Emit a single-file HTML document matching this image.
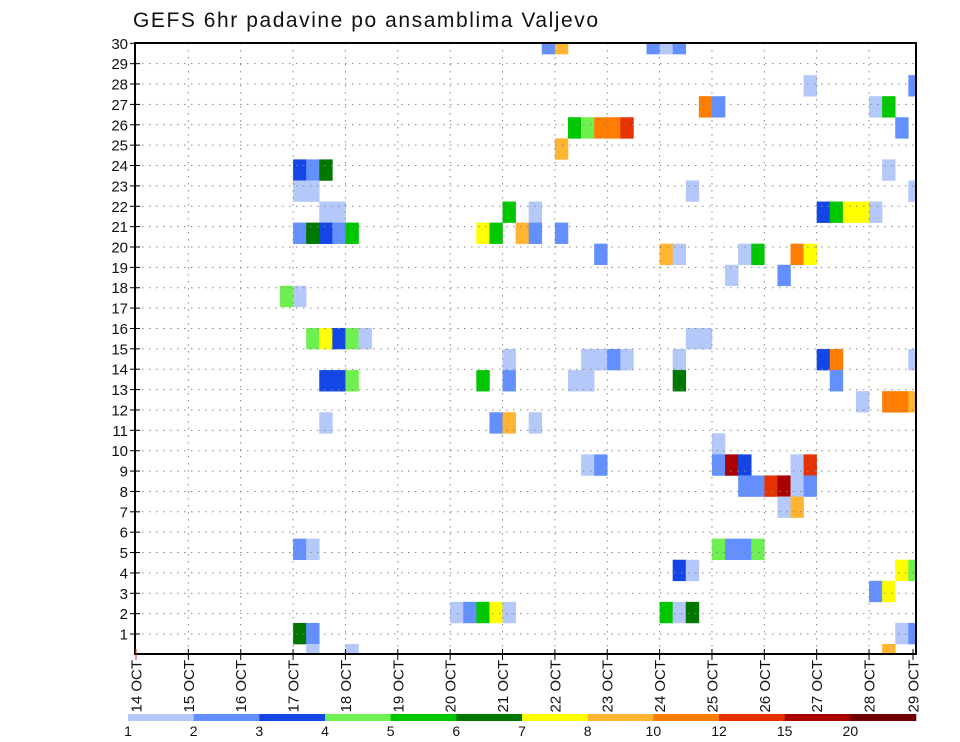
<!DOCTYPE html>
<html><head><meta charset="utf-8"><style>
html,body{margin:0;padding:0;background:#fff;}
svg{display:block;font-family:"Liberation Sans",sans-serif;}
</style></head><body>
<svg id="chart" width="960" height="742" viewBox="0 0 960 742" xmlns="http://www.w3.org/2000/svg">
<rect x="0" y="0" width="960" height="742" fill="#fff"/>
<text x="133" y="27" font-size="21" fill="#111" textLength="465">GEFS 6hr padavine po ansamblima Valjevo</text>
<defs><clipPath id="plotclip"><rect x="135" y="43" width="781" height="611"/></clipPath></defs>
<g id="cells" clip-path="url(#plotclip)"></g>
<g id="grid"></g>
<g id="axes"></g>
<g id="legend"></g>
</svg>
<script>
// ---- data ----
const levelLabels = [1,2,3,4,5,6,7,8,10,12,15,20];
const levelColors = ["#b4c8fa","#6490ff","#1446e6","#6ef050","#00c800","#007800","#ffff00","#ffb432","#ff7d00","#e63200","#aa0000","#700000"];
const dayLabels = ["14 OCT","15 OCT","16 OCT","17 OCT","18 OCT","19 OCT","20 OCT","21 OCT","22 OCT","23 OCT","24 OCT","25 OCT","26 OCT","27 OCT","28 OCT","29 OCT"];
const memberLabels = [1,2,3,4,5,6,7,8,9,10,11,12,13,14,15,16,17,18,19,20,21,22,23,24,25,26,27,28,29,30];
// cells: member slot, 6-hourly step since 14 OCT 00Z, colour level (1..12)
const cellMember = [29,29,29,29,29, 27,27, 26,26,26,26, 25,25,25,25,25,25, 24, 23,23,23,23, 22,22,22,22,
 21,21,21,21,21,21,21,21,21, 20,20,20,20,20,20,20,20,20,20, 19,19,19,19,19,19,19, 18,18, 17,17,
 15,15,15,15,15,15,15, 14,14,14,14,14,14,14,14,14, 13,13,13,13,13,13,13,13,13, 12,12,12,12,
 11,11,11,11, 10, 9,9,9,9,9,9,9, 8,8,8,8,8,8, 7,7, 5,5,5,5,5,5, 4,4,4,4, 3,3,
 2,2,2,2,2,2,2,2, 1,1,1,1, 0,0,0];
const cellStep = [31,32,39,40,41, 51,59, 43,44,56,57, 33,34,35,36,37,58, 32, 12,13,14,57, 12,13,42,59,
 14,15,28,30,52,53,54,55,56, 12,13,14,15,16,26,27,29,30,32, 35,40,41,46,47,50,51, 45,49, 11,12,
 13,14,15,16,17,42,43, 28,34,35,36,37,41,52,53,59, 14,15,16,26,28,33,34,41,53, 55,57,58,59,
 14,27,28,30, 44, 34,35,44,45,46,50,51, 46,47,48,49,50,51, 49,50, 12,13,44,45,46,47, 41,42,58,59, 56,57,
 24,25,26,27,28,40,41,42, 12,13,58,59, 13,16,57];
const cellLevel = [2,8,2,1,2, 1,2, 9,2,1,5, 5,4,9,9,10,2, 8, 3,2,6,1, 1,1,1,1,
 1,1,5,1,3,5,7,7,1, 2,6,3,2,5,7,5,8,2,2, 2,8,1,1,5,9,7, 1,2, 4,1,
 4,7,3,4,1,1,1, 1,1,1,2,1,1,3,9,1, 3,3,4,5,2,1,1,6,2, 1,9,9,8,
 1,2,8,1, 1, 1,2,2,11,3,1,10, 2,2,10,11,1,2, 1,8, 2,1,4,2,2,4, 3,1,7,4, 2,7,
 1,2,5,7,1,5,1,6, 6,2,1,2, 1,1,8];

// ---- scales ----
const X0 = 136, DAYW = 52.36, STEPW = DAYW/4;
const PL = 135, PR = 916, PT = 43, PB = 654;
function xDay(i){ return X0 + i*DAYW; }
function xStep(s){ return X0 + s*STEPW; }
function yLabel(k){ return 654.4 - k*20.37; }
const CELLH = 21.07;
function yCellTop(m){ return 644 - CELLH*m; }

const NS = "http://www.w3.org/2000/svg";
function mk(tag, attrs, parent){ const e=document.createElementNS(NS,tag); for(const k in attrs) e.setAttribute(k,attrs[k]); parent.appendChild(e); return e; }

// cells
const gc = document.getElementById('cells');
for(let i=0;i<cellMember.length;i++){
  const r = mk('rect',{x:xStep(cellStep[i]).toFixed(2), y:yCellTop(cellMember[i]).toFixed(2), width:(STEPW+0.3).toFixed(2), height:(CELLH+0.3).toFixed(2), fill:levelColors[cellLevel[i]-1]}, gc);
  
  
}

// grid
const gg = document.getElementById('grid');
for(let k=1;k<memberLabels.length;k++){
  const y = yLabel(memberLabels[k-1]);
  const l = mk('line',{x1:PL,x2:PR,y1:y,y2:y,stroke:"#888","stroke-width":1,"stroke-dasharray":"1.5 5.5"}, gg);
  
  
}
for(let i=1;i<dayLabels.length-1;i++){
  const x = xDay(i);
  const l = mk('line',{x1:x,x2:x,y1:PT,y2:PB,stroke:"#888","stroke-width":1,"stroke-dasharray":"1.5 5.5"}, gg);
  
  
}

// axes
const ga = document.getElementById('axes');
const frame = mk('rect',{x:PL,y:PT,width:PR-PL,height:PB-PT,fill:"none",stroke:"#000","stroke-width":2}, ga);


for(let k=0;k<memberLabels.length;k++){
  const y = yLabel(memberLabels[k]);
  const t = mk('line',{x1:PL-5,x2:PL+5,y1:y,y2:y,stroke:"#000","stroke-width":1}, ga);
  
  
  const tx = mk('text',{x:PL-7,y:y+5.5,"font-size":15,"text-anchor":"end",fill:"#111"}, ga);
  tx.textContent = memberLabels[k];
  
  
}
for(let i=0;i<dayLabels.length;i++){
  const x = Math.min(xDay(i), PR-3);
  const t = mk('line',{x1:x,x2:x,y1:PB-5,y2:PB+6,stroke:i===0?"#c33":"#000","stroke-width":1}, ga);
  
  
  const tx = mk('text',{x:0,y:0,"font-size":15,"text-anchor":"end",fill:"#111",transform:`translate(${x+5.5},${PB+6}) rotate(-90)`}, ga);
  tx.textContent = dayLabels[i];
  
  
}

// legend
const gl = document.getElementById('legend');
const LX0 = 128, LX1 = 916, segW = (LX1-LX0)/levelColors.length;
for(let i=0;i<levelColors.length;i++){
  const r = mk('rect',{x:(LX0+i*segW).toFixed(2),y:714,width:(segW+0.3).toFixed(2),height:7,fill:levelColors[i]}, gl);
  
  
  const t = mk('text',{x:(LX0+i*segW).toFixed(2),y:736,"font-size":14,"text-anchor":"middle",fill:"#111"}, gl);
  t.textContent = levelLabels[i];
  
  
}
</script>
</body></html>
